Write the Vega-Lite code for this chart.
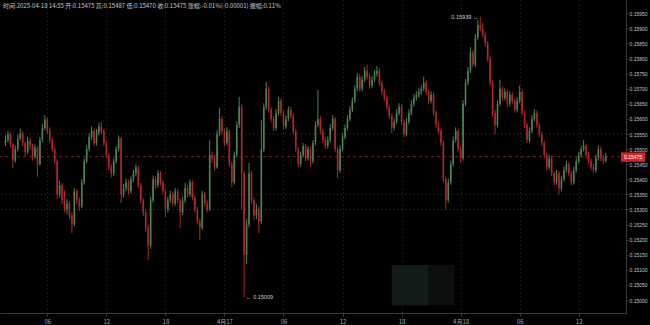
{
"$schema":"https://vega.github.io/schema/vega-lite/v6.json",
"width":626,"height":313,
"autosize":{"type":"none"},
"padding":{"left":0,"top":0,"right":24,"bottom":12},
"background":"#000000",
"config":{"view":{"stroke":null},"font":"Liberation Sans","axisY":{"labelOverlap":false,"tickCount":20,"labelFontSize":5,"labelPadding":1}},
"title":{"text":"时间:2025-04-18 14:55  开:0.15475  高:0.15487  低:0.15470  收:0.15475  涨幅:-0.01%(-0.00001)  振幅:0.11%","orient":"top","anchor":"start","frame":"group","offset":-9,"dx":3,"fontSize":6,"fontWeight":"normal","color":"#c8c8c8","font":"Noto Sans CJK SC"},
"datasets":{
"k":[
{"t":"2025-04-16T01:45","o":0.1552,"h":0.15545,"l":0.1551,"c":0.1553},
{"t":"2025-04-16T02:00","o":0.1553,"h":0.1556,"l":0.15522,"c":0.15548},
{"t":"2025-04-16T02:15","o":0.15548,"h":0.15555,"l":0.15505,"c":0.15515},
{"t":"2025-04-16T02:30","o":0.15515,"h":0.1552,"l":0.15437,"c":0.15462},
{"t":"2025-04-16T02:45","o":0.15462,"h":0.15512,"l":0.15455,"c":0.155},
{"t":"2025-04-16T03:00","o":0.155,"h":0.15548,"l":0.15492,"c":0.15535},
{"t":"2025-04-16T03:15","o":0.15535,"h":0.15568,"l":0.15528,"c":0.15552},
{"t":"2025-04-16T03:30","o":0.15552,"h":0.1556,"l":0.1551,"c":0.1552},
{"t":"2025-04-16T03:45","o":0.1552,"h":0.15525,"l":0.15478,"c":0.1549},
{"t":"2025-04-16T04:00","o":0.1549,"h":0.1554,"l":0.15485,"c":0.15528},
{"t":"2025-04-16T04:15","o":0.15528,"h":0.15536,"l":0.15498,"c":0.1551},
{"t":"2025-04-16T04:30","o":0.1551,"h":0.15518,"l":0.15462,"c":0.15475},
{"t":"2025-04-16T04:45","o":0.15475,"h":0.15515,"l":0.15468,"c":0.15505},
{"t":"2025-04-16T05:00","o":0.15505,"h":0.1551,"l":0.15408,"c":0.1545},
{"t":"2025-04-16T05:15","o":0.1545,"h":0.1554,"l":0.15445,"c":0.1553},
{"t":"2025-04-16T05:30","o":0.1553,"h":0.15582,"l":0.15522,"c":0.1557},
{"t":"2025-04-16T05:45","o":0.1557,"h":0.15613,"l":0.15562,"c":0.15598},
{"t":"2025-04-16T06:00","o":0.15598,"h":0.15605,"l":0.1555,"c":0.1556},
{"t":"2025-04-16T06:15","o":0.1556,"h":0.15572,"l":0.1552,"c":0.1553},
{"t":"2025-04-16T06:30","o":0.1553,"h":0.15538,"l":0.1549,"c":0.155},
{"t":"2025-04-16T06:45","o":0.155,"h":0.15508,"l":0.1545,"c":0.1546},
{"t":"2025-04-16T07:00","o":0.1546,"h":0.15465,"l":0.15335,"c":0.1535},
{"t":"2025-04-16T07:15","o":0.1535,"h":0.15395,"l":0.1534,"c":0.1538},
{"t":"2025-04-16T07:30","o":0.1538,"h":0.15388,"l":0.15318,"c":0.1533},
{"t":"2025-04-16T07:45","o":0.1533,"h":0.15364,"l":0.1529,"c":0.153},
{"t":"2025-04-16T08:00","o":0.153,"h":0.15335,"l":0.15285,"c":0.1532},
{"t":"2025-04-16T08:15","o":0.1532,"h":0.15328,"l":0.15268,"c":0.1528},
{"t":"2025-04-16T08:30","o":0.1528,"h":0.1529,"l":0.15222,"c":0.1525},
{"t":"2025-04-16T08:45","o":0.1525,"h":0.15372,"l":0.15245,"c":0.1536},
{"t":"2025-04-16T09:00","o":0.1536,"h":0.15368,"l":0.15318,"c":0.1533},
{"t":"2025-04-16T09:15","o":0.1533,"h":0.1534,"l":0.15295,"c":0.1531},
{"t":"2025-04-16T09:30","o":0.1531,"h":0.154,"l":0.15305,"c":0.1539},
{"t":"2025-04-16T09:45","o":0.1539,"h":0.1547,"l":0.15382,"c":0.1546},
{"t":"2025-04-16T10:00","o":0.1546,"h":0.15512,"l":0.15452,"c":0.155},
{"t":"2025-04-16T10:15","o":0.155,"h":0.15552,"l":0.15492,"c":0.1554},
{"t":"2025-04-16T10:30","o":0.1554,"h":0.15575,"l":0.1553,"c":0.1556},
{"t":"2025-04-16T10:45","o":0.1556,"h":0.15568,"l":0.1551,"c":0.1552},
{"t":"2025-04-16T11:00","o":0.1552,"h":0.15566,"l":0.15512,"c":0.15555},
{"t":"2025-04-16T11:15","o":0.15555,"h":0.15588,"l":0.15545,"c":0.15575},
{"t":"2025-04-16T11:30","o":0.15575,"h":0.1559,"l":0.1555,"c":0.1556},
{"t":"2025-04-16T11:45","o":0.1556,"h":0.15568,"l":0.1551,"c":0.1552},
{"t":"2025-04-16T12:00","o":0.1552,"h":0.15528,"l":0.1547,"c":0.1548},
{"t":"2025-04-16T12:15","o":0.1548,"h":0.15488,"l":0.1543,"c":0.1544},
{"t":"2025-04-16T12:30","o":0.1544,"h":0.1545,"l":0.15405,"c":0.1542},
{"t":"2025-04-16T12:45","o":0.1542,"h":0.1547,"l":0.15412,"c":0.1546},
{"t":"2025-04-16T13:00","o":0.1546,"h":0.1551,"l":0.15452,"c":0.155},
{"t":"2025-04-16T13:15","o":0.155,"h":0.15545,"l":0.15492,"c":0.15535},
{"t":"2025-04-16T13:30","o":0.15535,"h":0.1554,"l":0.15321,"c":0.1535},
{"t":"2025-04-16T13:45","o":0.1535,"h":0.15385,"l":0.1534,"c":0.1537},
{"t":"2025-04-16T14:00","o":0.1537,"h":0.15402,"l":0.1536,"c":0.1539},
{"t":"2025-04-16T14:15","o":0.1539,"h":0.15398,"l":0.1535,"c":0.1536},
{"t":"2025-04-16T14:30","o":0.1536,"h":0.1541,"l":0.15352,"c":0.154},
{"t":"2025-04-16T14:45","o":0.154,"h":0.15432,"l":0.1539,"c":0.1542},
{"t":"2025-04-16T15:00","o":0.1542,"h":0.1545,"l":0.1541,"c":0.1544},
{"t":"2025-04-16T15:15","o":0.1544,"h":0.15445,"l":0.1537,"c":0.1538},
{"t":"2025-04-16T15:30","o":0.1538,"h":0.15388,"l":0.1532,"c":0.1533},
{"t":"2025-04-16T15:45","o":0.1533,"h":0.15338,"l":0.15278,"c":0.1529},
{"t":"2025-04-16T16:00","o":0.1529,"h":0.15298,"l":0.15225,"c":0.1524},
{"t":"2025-04-16T16:15","o":0.1524,"h":0.1525,"l":0.15133,"c":0.1518},
{"t":"2025-04-16T16:30","o":0.1518,"h":0.15342,"l":0.1517,"c":0.1533},
{"t":"2025-04-16T16:45","o":0.1533,"h":0.15412,"l":0.15322,"c":0.154},
{"t":"2025-04-16T17:00","o":0.154,"h":0.1541,"l":0.15368,"c":0.1538},
{"t":"2025-04-16T17:15","o":0.1538,"h":0.1543,"l":0.15372,"c":0.1542},
{"t":"2025-04-16T17:30","o":0.1542,"h":0.15428,"l":0.1538,"c":0.1539},
{"t":"2025-04-16T17:45","o":0.1539,"h":0.15398,"l":0.1535,"c":0.1536},
{"t":"2025-04-16T18:00","o":0.1536,"h":0.15366,"l":0.15275,"c":0.153},
{"t":"2025-04-16T18:15","o":0.153,"h":0.15342,"l":0.1529,"c":0.1533},
{"t":"2025-04-16T18:30","o":0.1533,"h":0.15362,"l":0.15322,"c":0.1535},
{"t":"2025-04-16T18:45","o":0.1535,"h":0.15358,"l":0.1531,"c":0.1532},
{"t":"2025-04-16T19:00","o":0.1532,"h":0.15372,"l":0.15312,"c":0.1536},
{"t":"2025-04-16T19:15","o":0.1536,"h":0.15368,"l":0.1532,"c":0.1533},
{"t":"2025-04-16T19:30","o":0.1533,"h":0.15338,"l":0.15239,"c":0.1529},
{"t":"2025-04-16T19:45","o":0.1529,"h":0.15342,"l":0.15282,"c":0.1533},
{"t":"2025-04-16T20:00","o":0.1533,"h":0.15388,"l":0.15322,"c":0.1537},
{"t":"2025-04-16T20:15","o":0.1537,"h":0.1538,"l":0.1534,"c":0.1535},
{"t":"2025-04-16T20:30","o":0.1535,"h":0.154,"l":0.15342,"c":0.1539},
{"t":"2025-04-16T20:45","o":0.1539,"h":0.15396,"l":0.1533,"c":0.1534},
{"t":"2025-04-16T21:00","o":0.1534,"h":0.15348,"l":0.1529,"c":0.153},
{"t":"2025-04-16T21:15","o":0.153,"h":0.15308,"l":0.1525,"c":0.1526},
{"t":"2025-04-16T21:30","o":0.1526,"h":0.1527,"l":0.15199,"c":0.1524},
{"t":"2025-04-16T21:45","o":0.1524,"h":0.15362,"l":0.15232,"c":0.1535},
{"t":"2025-04-16T22:00","o":0.1535,"h":0.15358,"l":0.1531,"c":0.1532},
{"t":"2025-04-16T22:15","o":0.1532,"h":0.1533,"l":0.1529,"c":0.153},
{"t":"2025-04-16T22:30","o":0.153,"h":0.1553,"l":0.15295,"c":0.1548},
{"t":"2025-04-16T22:45","o":0.1548,"h":0.15492,"l":0.15455,"c":0.1547},
{"t":"2025-04-16T23:00","o":0.1547,"h":0.1548,"l":0.1543,"c":0.1544},
{"t":"2025-04-16T23:15","o":0.1544,"h":0.15562,"l":0.15435,"c":0.1555},
{"t":"2025-04-16T23:30","o":0.1555,"h":0.15636,"l":0.15542,"c":0.156},
{"t":"2025-04-16T23:45","o":0.156,"h":0.15608,"l":0.15548,"c":0.1556},
{"t":"2025-04-17T00:00","o":0.1556,"h":0.15568,"l":0.1551,"c":0.1552},
{"t":"2025-04-17T00:15","o":0.1552,"h":0.15573,"l":0.15512,"c":0.1556},
{"t":"2025-04-17T00:30","o":0.1556,"h":0.15565,"l":0.1544,"c":0.1545},
{"t":"2025-04-17T00:45","o":0.1545,"h":0.15458,"l":0.15374,"c":0.1539},
{"t":"2025-04-17T01:00","o":0.1539,"h":0.15492,"l":0.15382,"c":0.1548},
{"t":"2025-04-17T01:15","o":0.1548,"h":0.15592,"l":0.15472,"c":0.1558},
{"t":"2025-04-17T01:30","o":0.1558,"h":0.15673,"l":0.1557,"c":0.1564},
{"t":"2025-04-17T01:45","o":0.1564,"h":0.15648,"l":0.153,"c":0.1542},
{"t":"2025-04-17T02:00","o":0.1542,"h":0.15428,"l":0.15009,"c":0.1515},
{"t":"2025-04-17T02:15","o":0.1515,"h":0.1527,"l":0.1512,"c":0.1525},
{"t":"2025-04-17T02:30","o":0.1525,"h":0.15454,"l":0.1524,"c":0.1542},
{"t":"2025-04-17T02:45","o":0.1542,"h":0.15428,"l":0.1532,"c":0.1533},
{"t":"2025-04-17T03:00","o":0.1533,"h":0.1534,"l":0.15265,"c":0.1528},
{"t":"2025-04-17T03:15","o":0.1528,"h":0.15318,"l":0.15268,"c":0.153},
{"t":"2025-04-17T03:30","o":0.153,"h":0.1531,"l":0.15222,"c":0.1526},
{"t":"2025-04-17T03:45","o":0.1526,"h":0.15596,"l":0.15252,"c":0.155},
{"t":"2025-04-17T04:00","o":0.155,"h":0.15652,"l":0.1549,"c":0.1564},
{"t":"2025-04-17T04:15","o":0.1564,"h":0.15722,"l":0.1563,"c":0.157},
{"t":"2025-04-17T04:30","o":0.157,"h":0.15708,"l":0.1562,"c":0.1563},
{"t":"2025-04-17T04:45","o":0.1563,"h":0.1564,"l":0.15588,"c":0.156},
{"t":"2025-04-17T05:00","o":0.156,"h":0.1561,"l":0.1556,"c":0.1557},
{"t":"2025-04-17T05:15","o":0.1557,"h":0.15632,"l":0.15562,"c":0.1562},
{"t":"2025-04-17T05:30","o":0.1562,"h":0.15672,"l":0.15612,"c":0.1566},
{"t":"2025-04-17T05:45","o":0.1566,"h":0.15668,"l":0.1561,"c":0.1562},
{"t":"2025-04-17T06:00","o":0.1562,"h":0.15628,"l":0.15565,"c":0.15575},
{"t":"2025-04-17T06:15","o":0.15575,"h":0.15612,"l":0.15566,"c":0.156},
{"t":"2025-04-17T06:30","o":0.156,"h":0.15642,"l":0.15592,"c":0.1563},
{"t":"2025-04-17T06:45","o":0.1563,"h":0.1564,"l":0.156,"c":0.1561},
{"t":"2025-04-17T07:00","o":0.1561,"h":0.15618,"l":0.1555,"c":0.1556},
{"t":"2025-04-17T07:15","o":0.1556,"h":0.15568,"l":0.1549,"c":0.155},
{"t":"2025-04-17T07:30","o":0.155,"h":0.15508,"l":0.1544,"c":0.1545},
{"t":"2025-04-17T07:45","o":0.1545,"h":0.15492,"l":0.15442,"c":0.1548},
{"t":"2025-04-17T08:00","o":0.1548,"h":0.1552,"l":0.15472,"c":0.1551},
{"t":"2025-04-17T08:15","o":0.1551,"h":0.15518,"l":0.1546,"c":0.1547},
{"t":"2025-04-17T08:30","o":0.1547,"h":0.1551,"l":0.15462,"c":0.155},
{"t":"2025-04-17T08:45","o":0.155,"h":0.15508,"l":0.15441,"c":0.1546},
{"t":"2025-04-17T09:00","o":0.1546,"h":0.1553,"l":0.15452,"c":0.1552},
{"t":"2025-04-17T09:15","o":0.1552,"h":0.15592,"l":0.15512,"c":0.1558},
{"t":"2025-04-17T09:30","o":0.1558,"h":0.15696,"l":0.15572,"c":0.156},
{"t":"2025-04-17T09:45","o":0.156,"h":0.1561,"l":0.1555,"c":0.1556},
{"t":"2025-04-17T10:00","o":0.1556,"h":0.15568,"l":0.1552,"c":0.1553},
{"t":"2025-04-17T10:15","o":0.1553,"h":0.1554,"l":0.155,"c":0.1551},
{"t":"2025-04-17T10:30","o":0.1551,"h":0.15542,"l":0.15502,"c":0.1553},
{"t":"2025-04-17T10:45","o":0.1553,"h":0.15582,"l":0.15522,"c":0.1557},
{"t":"2025-04-17T11:00","o":0.1557,"h":0.15612,"l":0.15562,"c":0.156},
{"t":"2025-04-17T11:15","o":0.156,"h":0.15606,"l":0.1549,"c":0.155},
{"t":"2025-04-17T11:30","o":0.155,"h":0.15508,"l":0.15404,"c":0.1543},
{"t":"2025-04-17T11:45","o":0.1543,"h":0.15512,"l":0.15422,"c":0.155},
{"t":"2025-04-17T12:00","o":0.155,"h":0.15552,"l":0.15492,"c":0.1554},
{"t":"2025-04-17T12:15","o":0.1554,"h":0.15582,"l":0.15532,"c":0.1557},
{"t":"2025-04-17T12:30","o":0.1557,"h":0.15612,"l":0.15562,"c":0.156},
{"t":"2025-04-17T12:45","o":0.156,"h":0.15642,"l":0.15592,"c":0.1563},
{"t":"2025-04-17T13:00","o":0.1563,"h":0.15672,"l":0.15622,"c":0.1566},
{"t":"2025-04-17T13:15","o":0.1566,"h":0.15712,"l":0.15652,"c":0.157},
{"t":"2025-04-17T13:30","o":0.157,"h":0.15752,"l":0.15692,"c":0.1574},
{"t":"2025-04-17T13:45","o":0.1574,"h":0.15748,"l":0.1569,"c":0.157},
{"t":"2025-04-17T14:00","o":0.157,"h":0.15742,"l":0.15692,"c":0.1573},
{"t":"2025-04-17T14:15","o":0.1573,"h":0.15772,"l":0.15722,"c":0.1576},
{"t":"2025-04-17T14:30","o":0.1576,"h":0.1578,"l":0.1573,"c":0.1574},
{"t":"2025-04-17T14:45","o":0.1574,"h":0.1575,"l":0.157,"c":0.1571},
{"t":"2025-04-17T15:00","o":0.1571,"h":0.15742,"l":0.15702,"c":0.1573},
{"t":"2025-04-17T15:15","o":0.1573,"h":0.15762,"l":0.15722,"c":0.1575},
{"t":"2025-04-17T15:30","o":0.1575,"h":0.15775,"l":0.1574,"c":0.1576},
{"t":"2025-04-17T15:45","o":0.1576,"h":0.15768,"l":0.1571,"c":0.1572},
{"t":"2025-04-17T16:00","o":0.1572,"h":0.15728,"l":0.1568,"c":0.1569},
{"t":"2025-04-17T16:15","o":0.1569,"h":0.157,"l":0.1566,"c":0.1567},
{"t":"2025-04-17T16:30","o":0.1567,"h":0.15678,"l":0.1563,"c":0.1564},
{"t":"2025-04-17T16:45","o":0.1564,"h":0.15648,"l":0.156,"c":0.1561},
{"t":"2025-04-17T17:00","o":0.1561,"h":0.15618,"l":0.15553,"c":0.1557},
{"t":"2025-04-17T17:15","o":0.1557,"h":0.15602,"l":0.15562,"c":0.1559},
{"t":"2025-04-17T17:30","o":0.1559,"h":0.15632,"l":0.15582,"c":0.1562},
{"t":"2025-04-17T17:45","o":0.1562,"h":0.15652,"l":0.15612,"c":0.1564},
{"t":"2025-04-17T18:00","o":0.1564,"h":0.15648,"l":0.1558,"c":0.1559},
{"t":"2025-04-17T18:15","o":0.1559,"h":0.15598,"l":0.1554,"c":0.1555},
{"t":"2025-04-17T18:30","o":0.1555,"h":0.15602,"l":0.15542,"c":0.1559},
{"t":"2025-04-17T18:45","o":0.1559,"h":0.15632,"l":0.15582,"c":0.1562},
{"t":"2025-04-17T19:00","o":0.1562,"h":0.15662,"l":0.15612,"c":0.1565},
{"t":"2025-04-17T19:15","o":0.1565,"h":0.15682,"l":0.15642,"c":0.1567},
{"t":"2025-04-17T19:30","o":0.1567,"h":0.15692,"l":0.1566,"c":0.1568},
{"t":"2025-04-17T19:45","o":0.1568,"h":0.15702,"l":0.1567,"c":0.1569},
{"t":"2025-04-17T20:00","o":0.1569,"h":0.15712,"l":0.1568,"c":0.157},
{"t":"2025-04-17T20:15","o":0.157,"h":0.1574,"l":0.15692,"c":0.1572},
{"t":"2025-04-17T20:30","o":0.1572,"h":0.15728,"l":0.1568,"c":0.1569},
{"t":"2025-04-17T20:45","o":0.1569,"h":0.15698,"l":0.1565,"c":0.1566},
{"t":"2025-04-17T21:00","o":0.1566,"h":0.15692,"l":0.15652,"c":0.1568},
{"t":"2025-04-17T21:15","o":0.1568,"h":0.15688,"l":0.1561,"c":0.1562},
{"t":"2025-04-17T21:30","o":0.1562,"h":0.15628,"l":0.1557,"c":0.1558},
{"t":"2025-04-17T21:45","o":0.1558,"h":0.1559,"l":0.1555,"c":0.1556},
{"t":"2025-04-17T22:00","o":0.1556,"h":0.15568,"l":0.1551,"c":0.1552},
{"t":"2025-04-17T22:15","o":0.1552,"h":0.15528,"l":0.1539,"c":0.154},
{"t":"2025-04-17T22:30","o":0.154,"h":0.15408,"l":0.15298,"c":0.1533},
{"t":"2025-04-17T22:45","o":0.1533,"h":0.15402,"l":0.15322,"c":0.1539},
{"t":"2025-04-17T23:00","o":0.1539,"h":0.15462,"l":0.15382,"c":0.1545},
{"t":"2025-04-17T23:15","o":0.1545,"h":0.15542,"l":0.15442,"c":0.1553},
{"t":"2025-04-17T23:30","o":0.1553,"h":0.15572,"l":0.15522,"c":0.1556},
{"t":"2025-04-17T23:45","o":0.1556,"h":0.15568,"l":0.1549,"c":0.155},
{"t":"2025-04-18T00:00","o":0.155,"h":0.1551,"l":0.15455,"c":0.1547},
{"t":"2025-04-18T00:15","o":0.1547,"h":0.15662,"l":0.15462,"c":0.1565},
{"t":"2025-04-18T00:30","o":0.1565,"h":0.15732,"l":0.15642,"c":0.1572},
{"t":"2025-04-18T00:45","o":0.1572,"h":0.15772,"l":0.15712,"c":0.1576},
{"t":"2025-04-18T01:00","o":0.1576,"h":0.15838,"l":0.15752,"c":0.1582},
{"t":"2025-04-18T01:15","o":0.1582,"h":0.15828,"l":0.1577,"c":0.1578},
{"t":"2025-04-18T01:30","o":0.1578,"h":0.15882,"l":0.15772,"c":0.1587},
{"t":"2025-04-18T01:45","o":0.1587,"h":0.15928,"l":0.15862,"c":0.1591},
{"t":"2025-04-18T02:00","o":0.1591,"h":0.15939,"l":0.1589,"c":0.159},
{"t":"2025-04-18T02:15","o":0.159,"h":0.15918,"l":0.1587,"c":0.1588},
{"t":"2025-04-18T02:30","o":0.1588,"h":0.1589,"l":0.1584,"c":0.1585},
{"t":"2025-04-18T02:45","o":0.1585,"h":0.15858,"l":0.1579,"c":0.158},
{"t":"2025-04-18T03:00","o":0.158,"h":0.15808,"l":0.1571,"c":0.1572},
{"t":"2025-04-18T03:15","o":0.1572,"h":0.15728,"l":0.15606,"c":0.1562},
{"t":"2025-04-18T03:30","o":0.1562,"h":0.1563,"l":0.1555,"c":0.1558},
{"t":"2025-04-18T03:45","o":0.1558,"h":0.15662,"l":0.15572,"c":0.1565},
{"t":"2025-04-18T04:00","o":0.1565,"h":0.1573,"l":0.15642,"c":0.157},
{"t":"2025-04-18T04:15","o":0.157,"h":0.15708,"l":0.1566,"c":0.1567},
{"t":"2025-04-18T04:30","o":0.1567,"h":0.15702,"l":0.15662,"c":0.1569},
{"t":"2025-04-18T04:45","o":0.1569,"h":0.15698,"l":0.1564,"c":0.1565},
{"t":"2025-04-18T05:00","o":0.1565,"h":0.15692,"l":0.15642,"c":0.1568},
{"t":"2025-04-18T05:15","o":0.1568,"h":0.15688,"l":0.1565,"c":0.1566},
{"t":"2025-04-18T05:30","o":0.1566,"h":0.15668,"l":0.1562,"c":0.1563},
{"t":"2025-04-18T05:45","o":0.1563,"h":0.15672,"l":0.15622,"c":0.1566},
{"t":"2025-04-18T06:00","o":0.1566,"h":0.1571,"l":0.15652,"c":0.1569},
{"t":"2025-04-18T06:15","o":0.1569,"h":0.15698,"l":0.1561,"c":0.1562},
{"t":"2025-04-18T06:30","o":0.1562,"h":0.15628,"l":0.1557,"c":0.1558},
{"t":"2025-04-18T06:45","o":0.1558,"h":0.15588,"l":0.1552,"c":0.1553},
{"t":"2025-04-18T07:00","o":0.1553,"h":0.15572,"l":0.15522,"c":0.1556},
{"t":"2025-04-18T07:15","o":0.1556,"h":0.15612,"l":0.15552,"c":0.156},
{"t":"2025-04-18T07:30","o":0.156,"h":0.15632,"l":0.15592,"c":0.1562},
{"t":"2025-04-18T07:45","o":0.1562,"h":0.15628,"l":0.1557,"c":0.1558},
{"t":"2025-04-18T08:00","o":0.1558,"h":0.15588,"l":0.1554,"c":0.1555},
{"t":"2025-04-18T08:15","o":0.1555,"h":0.15558,"l":0.1551,"c":0.1552},
{"t":"2025-04-18T08:30","o":0.1552,"h":0.15528,"l":0.1547,"c":0.1548},
{"t":"2025-04-18T08:45","o":0.1548,"h":0.15488,"l":0.1543,"c":0.1544},
{"t":"2025-04-18T09:00","o":0.1544,"h":0.15482,"l":0.15432,"c":0.1547},
{"t":"2025-04-18T09:15","o":0.1547,"h":0.15478,"l":0.1541,"c":0.1542},
{"t":"2025-04-18T09:30","o":0.1542,"h":0.15428,"l":0.1538,"c":0.1539},
{"t":"2025-04-18T09:45","o":0.1539,"h":0.15432,"l":0.15382,"c":0.1542},
{"t":"2025-04-18T10:00","o":0.1542,"h":0.15428,"l":0.1535,"c":0.1537},
{"t":"2025-04-18T10:15","o":0.1537,"h":0.15412,"l":0.15362,"c":0.154},
{"t":"2025-04-18T10:30","o":0.154,"h":0.15442,"l":0.15392,"c":0.1543},
{"t":"2025-04-18T10:45","o":0.1543,"h":0.15462,"l":0.15422,"c":0.1545},
{"t":"2025-04-18T11:00","o":0.1545,"h":0.15458,"l":0.1541,"c":0.1542},
{"t":"2025-04-18T11:15","o":0.1542,"h":0.15428,"l":0.1538,"c":0.1539},
{"t":"2025-04-18T11:30","o":0.1539,"h":0.15442,"l":0.15382,"c":0.1543},
{"t":"2025-04-18T11:45","o":0.1543,"h":0.15472,"l":0.15422,"c":0.1546},
{"t":"2025-04-18T12:00","o":0.1546,"h":0.15492,"l":0.15452,"c":0.1548},
{"t":"2025-04-18T12:15","o":0.1548,"h":0.15512,"l":0.15472,"c":0.155},
{"t":"2025-04-18T12:30","o":0.155,"h":0.1553,"l":0.15492,"c":0.1551},
{"t":"2025-04-18T12:45","o":0.1551,"h":0.15518,"l":0.1547,"c":0.1548},
{"t":"2025-04-18T13:00","o":0.1548,"h":0.1549,"l":0.1545,"c":0.1546},
{"t":"2025-04-18T13:15","o":0.1546,"h":0.1547,"l":0.1543,"c":0.1544},
{"t":"2025-04-18T13:30","o":0.1544,"h":0.1545,"l":0.1542,"c":0.1543},
{"t":"2025-04-18T13:45","o":0.1543,"h":0.15482,"l":0.15422,"c":0.1547},
{"t":"2025-04-18T14:00","o":0.1547,"h":0.15512,"l":0.15462,"c":0.155},
{"t":"2025-04-18T14:15","o":0.155,"h":0.15508,"l":0.1546,"c":0.1547},
{"t":"2025-04-18T14:30","o":0.1547,"h":0.1548,"l":0.15452,"c":0.1546},
{"t":"2025-04-18T14:45","o":0.1546,"h":0.15487,"l":0.15455,"c":0.15475}
],
"box":[
{"t":"2025-04-17T17:00","t2":"2025-04-17T20:42","p":0.15116,"p2":0.14983,"kind":"solid"},
{"t":"2025-04-17T20:42","t2":"2025-04-17T23:24","p":0.15116,"p2":0.14983,"kind":"dots"}
],
"hl":[{"p":0.1555},{"p":0.1535},{"p":0.153}],
"last":[{"t":"2025-04-18T16:18","t2":"2025-04-18T18:45","p":0.15475,"p2":0.15489,"p3":0.15458,"label":"0.15475"}],
"annL":[{"t":"2025-04-18T02:00","p":0.15939,"label":"0.15939 →"}],
"annR":[{"t":"2025-04-17T02:00","p":0.15009,"label":"← 0.15009"}]
},
"layer":[
{"data":{"name":"box"},"mark":{"type":"rect"},
 "encoding":{
  "x":{"field":"t","type":"temporal","title":null,
       "scale":{"domain":[{"year":2025,"month":4,"date":16,"hours":1,"minutes":42},{"year":2025,"month":4,"date":18,"hours":16,"minutes":18}]},
       "axis":{"orient":"bottom",
               "values":[{"year":2025,"month":4,"date":16,"hours":6},{"year":2025,"month":4,"date":16,"hours":12},{"year":2025,"month":4,"date":16,"hours":18},{"year":2025,"month":4,"date":17,"hours":0},{"year":2025,"month":4,"date":17,"hours":6},{"year":2025,"month":4,"date":17,"hours":12},{"year":2025,"month":4,"date":17,"hours":18},{"year":2025,"month":4,"date":18,"hours":0},{"year":2025,"month":4,"date":18,"hours":6},{"year":2025,"month":4,"date":18,"hours":12}],
               "labelExpr":"timeFormat(datum.value,'%H')=='00' ? timeFormat(datum.value,'%-m')+'月'+timeFormat(datum.value,'%-d') : timeFormat(datum.value,'%H')",
               "labelFontSize":6,"labelColor":"#a8a8a8","labelPadding":2,"labelFont":"Noto Sans CJK SC",
               "domainColor":"#3a3a3a","tickColor":"#3a3a3a","tickSize":3,
               "grid":true,"gridColor":"#2e2e2e","gridDash":[1,3],"labelFlush":false}},
  "x2":{"field":"t2"},
  "y":{"field":"p","type":"quantitative","title":null,
       "scale":{"domain":[0.14957,0.15994],"nice":false,"zero":false},
       "axis":{"orient":"right","values":[0.15,0.1505,0.151,0.1515,0.152,0.1525,0.153,0.1535,0.154,0.1545,0.155,0.1555,0.156,0.1565,0.157,0.1575,0.158,0.1585,0.159,0.1595],
               "format":".5f","labelFontSize":5,"labelColor":"#c0c8c0","labelPadding":1,"labelOverlap":false,"labelBound":false,
               "domainColor":"#3a3a3a","tickColor":"#3a3a3a","tickSize":2,"grid":false}},
  "y2":{"field":"p2"},
  "color":{"condition":{"test":"datum.kind=='solid'","value":"#141c19"},"value":"#0b100e"}
 }},
{"data":{"name":"hl"},"mark":{"type":"rule","strokeDash":[1,3],"color":"#3a3a3a","strokeWidth":1},
 "encoding":{"y":{"field":"p","type":"quantitative","title":null}}},
{"data":{"name":"last"},"mark":{"type":"rule","strokeDash":[3,3],"color":"#8a1c1c","strokeWidth":1},
 "encoding":{"y":{"field":"p","type":"quantitative","title":null}}},
{"data":{"name":"k"},"mark":{"type":"rule","strokeWidth":1},
 "encoding":{
  "x":{"field":"t","type":"temporal","title":null},
  "y":{"field":"l","type":"quantitative","title":null},
  "y2":{"field":"h"},
  "color":{"condition":{"test":"datum.c>=datum.o","value":"#4a8553"},"value":"#b3262a"}
 }},
{"data":{"name":"k"},"mark":{"type":"bar","size":1.6},
 "encoding":{
  "x":{"field":"t","type":"temporal","title":null},
  "y":{"field":"o","type":"quantitative","title":null},
  "y2":{"field":"c"},
  "color":{"condition":{"test":"datum.c>=datum.o","value":"#4a8553"},"value":"#b3262a"}
 }},
{"data":{"name":"last"},"mark":{"type":"rect","color":"#d0262b","clip":false},
 "encoding":{
  "x":{"field":"t","type":"temporal","title":null},
  "x2":{"field":"t2"},
  "y":{"field":"p2","type":"quantitative","title":null},
  "y2":{"field":"p3"}
 }},
{"data":{"name":"last"},"mark":{"type":"text","color":"#ffffff","fontSize":5,"align":"left","dx":3,"baseline":"middle","clip":false},
 "encoding":{
  "x":{"field":"t","type":"temporal","title":null},
  "y":{"field":"p","type":"quantitative","title":null},
  "text":{"field":"label"}
 }},
{"data":{"name":"annL"},"mark":{"type":"text","color":"#d0d0d0","fontSize":5.5,"baseline":"middle","align":"right","dx":-2},
 "encoding":{
  "x":{"field":"t","type":"temporal","title":null},
  "y":{"field":"p","type":"quantitative","title":null},
  "text":{"field":"label"}
 }},
{"data":{"name":"annR"},"mark":{"type":"text","color":"#d0d0d0","fontSize":5.5,"baseline":"middle","align":"left","dx":2},
 "encoding":{
  "x":{"field":"t","type":"temporal","title":null},
  "y":{"field":"p","type":"quantitative","title":null},
  "text":{"field":"label"}
 }}
]
}
